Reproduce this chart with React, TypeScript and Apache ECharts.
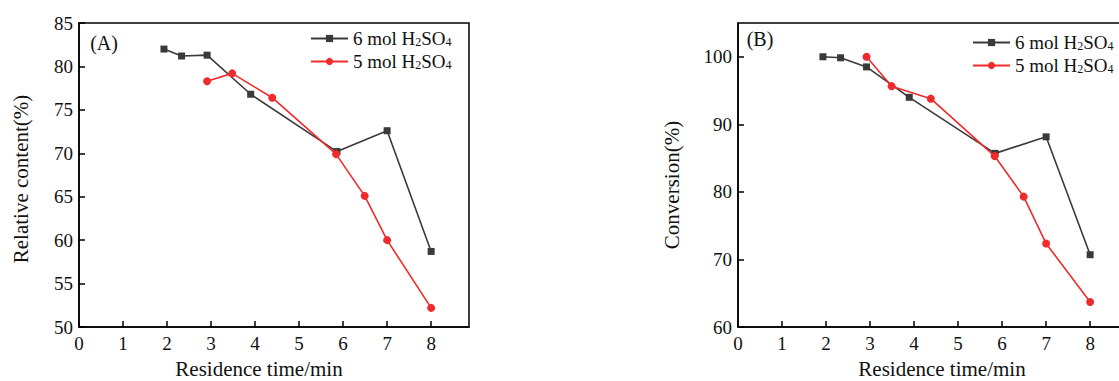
import React, { useEffect, useRef } from "react";
import * as echarts from "echarts";

// Chart (A): relative content vs residence time
const timeA6 = [1.93, 2.33, 2.91, 3.9, 5.86, 7.0, 8.0];
const valA6 = [82.0, 81.2, 81.3, 76.8, 70.2, 72.6, 58.7];
const timeA5 = [2.91, 3.48, 4.39, 5.84, 6.49, 7.0, 8.0];
const valA5 = [78.3, 79.2, 76.4, 69.9, 65.1, 60.0, 52.2];

// Chart (B): conversion vs residence time
const timeB6 = [1.93, 2.33, 2.92, 3.89, 5.84, 7.0, 8.0];
const valB6 = [100.0, 99.85, 98.5, 94.0, 85.7, 88.15, 70.7];
const timeB5 = [2.92, 3.49, 4.38, 5.83, 6.49, 7.0, 8.0];
const valB5 = [100.0, 95.65, 93.8, 85.3, 79.3, 72.35, 63.7];

const seriesNames = ["6 mol H2SO4", "5 mol H2SO4"];
const panelLabels = ["(A)", "(B)"];
const yNames = ["Relative content(%)", "Conversion(%)"];
const xName = "Residence time/min";

const FONT = "'Liberation Serif', 'Times New Roman', serif";
const BLACK = "#3a3a3a";
const RED = "#ef2b2b";

const pairs = (xs: number[], ys: number[]) => xs.map((x, i) => [x, ys[i]]);

export default function App() {
  const ref = useRef<HTMLDivElement>(null);
  useEffect(() => {
    document.body.style.margin = "0";
    document.body.style.overflow = "hidden";
    const chart = echarts.init(ref.current!, null, { renderer: "svg" });

    const axisLine = { show: true, lineStyle: { color: "#000", width: 1.5 } };
    const axisTick = { show: true, inside: true, length: 6, lineStyle: { color: "#000", width: 1.5 } };

    const mkX = (gi: number) => ({
      type: "value",
      gridIndex: gi,
      min: 0,
      max: 8.86,
      interval: 1,
      axisLine,
      axisTick,
      splitLine: { show: false },
      axisLabel: { fontFamily: FONT, fontSize: 19, color: "#111", margin: 7, showMaxLabel: false },
    });
    const mkY = (gi: number, min: number, max: number, interval: number, showMax: boolean) => ({
      type: "value",
      gridIndex: gi,
      min,
      max,
      interval,
      axisLine,
      axisTick,
      splitLine: { show: false },
      axisLabel: { fontFamily: FONT, fontSize: 19, color: "#111", margin: 6, showMaxLabel: showMax },
    });

    const mkSeries = (name: string, data: number[][], gi: number, color: string, symbol: string) => ({
      type: "line",
      name,
      xAxisIndex: gi,
      yAxisIndex: gi,
      data,
      color,
      symbol,
      symbolSize: symbol === "rect" ? 7 : 8,
      lineStyle: { color, width: 1.6 },
      itemStyle: { color },
    });

    const legendFormatter = (name: string) => name.replace("H2SO4", "H{s|2}SO{s|4}");
    const legendText = {
      fontFamily: FONT,
      fontSize: 19,
      color: "#111",
      rich: {
        s: { fontFamily: FONT, fontSize: 12, color: "#111", verticalAlign: "bottom", padding: [6, 0, 0, 0] },
      },
    };
    const mkLegend = (left: number, top: number) => ({
      orient: "vertical",
      left,
      top,
      itemWidth: 37,
      itemHeight: 9,
      itemGap: 4,
      data: seriesNames,
      formatter: legendFormatter,
      textStyle: legendText,
      selectedMode: false,
    });

    const text = (t: string, x: number, y: number, size: number, rot = 0) => ({
      type: "text",
      x,
      y,
      rotation: rot,
      style: {
        text: t,
        fontFamily: FONT,
        fontSize: size,
        fill: "#111",
        align: "center",
        verticalAlign: "middle",
      },
    });

    chart.setOption({
      animation: false,
      textStyle: { fontFamily: FONT },
      grid: [
        { left: 79, top: 23, width: 390, height: 304, show: true, borderColor: "#000", borderWidth: 1.5, backgroundColor: "transparent" },
        { left: 738, top: 23, width: 390, height: 304, show: true, borderColor: "#000", borderWidth: 1.5, backgroundColor: "transparent" },
      ],
      xAxis: [mkX(0), mkX(1)],
      yAxis: [mkY(0, 50, 85, 5, true), mkY(1, 60, 105, 10, false)],
      legend: [mkLegend(305, 24), mkLegend(967, 28)],
      series: [
        mkSeries(seriesNames[0], pairs(timeA6, valA6), 0, BLACK, "rect"),
        mkSeries(seriesNames[1], pairs(timeA5, valA5), 0, RED, "circle"),
        mkSeries(seriesNames[0], pairs(timeB6, valB6), 1, BLACK, "rect"),
        mkSeries(seriesNames[1], pairs(timeB5, valB5), 1, RED, "circle"),
      ],
      graphic: [
        text(panelLabels[0], 104, 43, 20),
        text(panelLabels[1], 760, 39, 20),
        text(yNames[0], 21, 179, 21, Math.PI / 2),
        text(yNames[1], 672, 185, 21, Math.PI / 2),
        text(xName, 259, 369, 21),
        text(xName, 942, 369, 21),
      ],
    });
    return () => chart.dispose();
  }, []);
  return <div ref={ref} style={{ position: "absolute", left: 0, top: 0, width: 1130, height: 381 }} />;
}
